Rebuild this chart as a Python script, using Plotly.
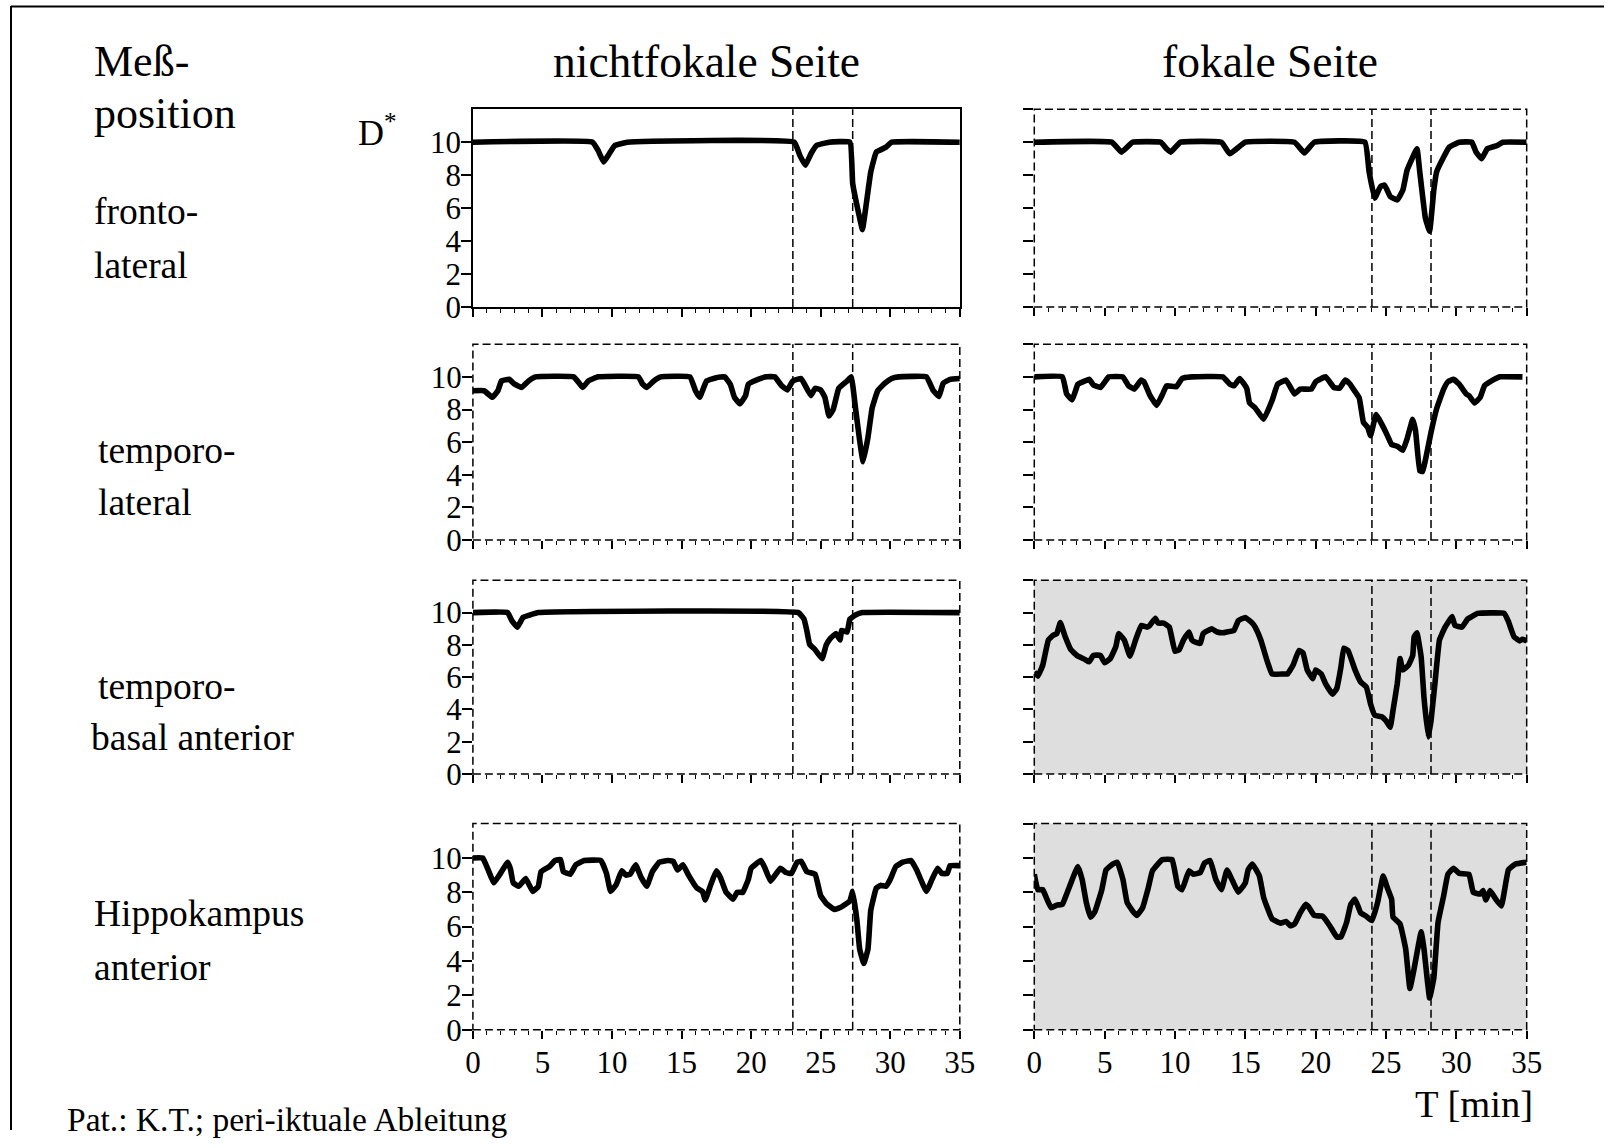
import plotly.graph_objects as go

W, H = 1619, 1148
FONT = "Liberation Serif, Times New Roman, serif"

# ---------------- data ----------------
col_titles = ["nichtfokale Seite", "fokale Seite"]
row_labels = [["fronto-", "lateral"], ["temporo-", "lateral"],
              ["temporo-", "basal anterior"], ["Hippokampus", "anterior"]]
x_tick_vals = [0, 5, 10, 15, 20, 25, 30, 35]
y_tick_vals_left = [0, 2, 4, 6, 8, 10]
y_tick_vals_right = [0, 2, 4, 6, 8, 10, 12]
event_times_nf = [23.0, 27.3]   # nichtfokale Seite
event_times_f = [24.0, 28.2]    # fokale Seite
shaded = [[False, False], [False, False], [False, True], [False, True]]

# Row 1: fronto-lateral
t_nf_fronto = [0, 8.6, 9.0, 9.4, 9.8, 10.2, 11.1, 23.1, 23.5, 23.9, 24.3, 24.7, 25.6,
               27.1, 27.3, 27.75, 28.0, 28.3, 28.6, 29.0, 29.7, 30.1, 35]
d_nf_fronto = [10, 10, 9.5, 8.8, 9.3, 9.8, 10, 10, 9.2, 8.6, 9.3, 9.8, 10,
               10, 7.5, 5.6, 4.7, 6.4, 8.2, 9.4, 9.7, 10, 10]
t_f_fronto = [0, 5.5, 6.2, 7.0, 9.0, 9.4, 9.7, 10.4, 13.3, 13.9, 15.0, 18.5, 19.2, 19.9,
              23.5, 23.8, 24.2, 24.6, 24.9, 25.3, 25.8, 26.2, 26.5, 27.2, 27.4, 27.8, 28.1,
              28.4, 28.6, 29.1, 29.5, 30.2, 31.1, 31.4, 31.8, 32.2, 32.9, 33.3, 35]
d_f_fronto = [10, 10, 9.4, 10, 10, 9.6, 9.4, 10, 10, 9.3, 10, 10, 9.35, 10,
              10, 8.2, 6.6, 7.3, 7.4, 6.7, 6.5, 7.1, 8.3, 9.6, 8.2, 5.4, 4.6,
              7.1, 8.2, 9.1, 9.7, 10, 10, 9.4, 9.0, 9.6, 9.8, 10, 10]

# Row 2: temporo-lateral
t_nf_templat = [0, 0.8, 1.4, 1.8, 2.05, 2.6, 3.0, 3.5, 4.0, 4.5, 7.25, 7.7, 7.9, 8.3, 9.0,
                11.9, 12.2, 12.5, 13.0, 13.5, 15.6, 16.0, 16.3, 16.8, 17.5, 18.1, 18.5, 18.8,
                19.2, 19.6, 19.8, 20.5, 21.1, 21.7, 22.2, 22.6, 23.0, 23.6, 23.9, 24.3, 24.6,
                25.0, 25.3, 25.6, 25.9, 26.3, 26.9, 27.2, 27.5, 27.8, 28.05, 28.4, 28.7, 29.1,
                29.6, 30.1, 30.6, 32.6, 33.1, 33.5, 33.8, 34.3, 35]
d_nf_templat = [9.15, 9.15, 8.75, 9.15, 9.75, 9.85, 9.55, 9.35, 9.75, 10, 10, 9.55, 9.35, 9.75, 10,
                10, 9.55, 9.35, 9.75, 10, 10, 9.15, 8.75, 9.75, 9.95, 10, 9.55, 8.75,
                8.35, 8.85, 9.55, 9.85, 10, 10, 9.45, 9.2, 9.75, 9.9, 9.45, 8.85, 9.3,
                9.2, 8.75, 7.6, 8.0, 9.3, 9.75, 10, 8.1, 6.1, 4.8, 6.3, 8.1, 9.15,
                9.6, 9.9, 10, 10, 9.15, 8.8, 9.6, 9.85, 9.9]
t_f_templat = [0, 2.0, 2.3, 2.7, 3.1, 3.6, 3.9, 4.2, 4.7, 5.3, 6.3, 6.7, 7.1, 7.6, 7.8,
               8.2, 8.7, 9.1, 9.4, 10.1, 10.5, 11.2, 13.4, 13.9, 14.2, 14.6, 15.1, 15.3, 15.7,
               16.3, 16.9, 17.3, 17.9, 18.5, 18.9, 19.7, 20.0, 20.7, 21.3, 21.7, 22.1, 22.4,
               22.8, 23.1, 23.4, 23.7, 23.9, 24.3, 24.7, 25.1, 25.4, 25.8, 26.2, 26.5, 26.9,
               27.1, 27.4, 27.6, 27.8, 28.2, 28.6, 29.1, 29.4, 29.8, 30.2, 30.7, 30.9, 31.3,
               31.7, 32.0, 32.5, 33.1, 34.7]
d_f_templat = [10, 10, 8.95, 8.6, 9.55, 9.75, 9.85, 9.5, 9.35, 10, 10, 9.45, 9.25, 9.8, 9.7,
               8.9, 8.25, 8.9, 9.45, 9.4, 9.9, 10, 10, 9.55, 9.45, 9.9, 9.3, 8.4, 8.1,
               7.4, 8.55, 9.55, 9.8, 8.95, 9.25, 9.25, 9.7, 10, 9.35, 9.3, 9.8, 9.6,
               9.1, 8.7, 7.2, 6.9, 6.4, 7.7, 7.1, 6.4, 5.85, 5.75, 5.5, 6.2, 7.4,
               6.7, 4.25, 4.2, 4.9, 6.6, 8.05, 9.25, 9.7, 9.85, 9.55, 8.95, 8.85, 8.4,
               8.75, 9.45, 9.75, 10, 10]

# Row 3: temporo-basal anterior
t_nf_tempbas = [0, 2.5, 2.8, 3.2, 3.6, 4.1, 4.7, 23.4, 23.8, 24.0, 24.2, 24.6, 25.1, 25.4,
                25.7, 26.1, 26.4, 26.5, 26.9, 27.1, 27.5, 28.0, 35]
d_nf_tempbas = [10, 10, 9.5, 9.1, 9.7, 9.85, 10, 10, 9.6, 8.9, 8.05, 7.7, 7.15, 8.0,
                8.4, 8.7, 8.3, 8.9, 8.8, 9.6, 9.85, 10, 10]
t_f_tempbas = [0, 0.25, 0.6, 1.0, 1.35, 1.6, 1.85, 2.2, 2.6, 3.1, 3.6, 3.9, 4.2, 4.7, 5.0,
               5.4, 5.8, 6.0, 6.4, 6.8, 7.2, 7.6, 8.0, 8.2, 8.6, 8.8, 9.2, 9.6, 10.0, 10.3,
               10.6, 11.0, 11.2, 11.5, 11.8, 12.0, 12.6, 13.0, 13.4, 13.7, 14.2, 14.5, 15.0,
               15.5, 15.7, 16.1, 16.5, 16.9, 17.7, 18.0, 18.4, 18.8, 19.1, 19.4, 19.8, 20.0,
               20.4, 20.7, 21.2, 21.5, 21.8, 22.0, 22.3, 22.8, 23.2, 23.6, 23.9, 24.2, 24.7,
               25.0, 25.3, 25.5, 25.8, 26.0, 26.2, 26.6, 26.9, 27.0, 27.2, 27.5, 27.7, 28.0,
               28.2, 28.5, 28.8, 29.2, 29.7, 29.9, 30.4, 30.8, 31.1, 31.5, 33.4, 33.7, 34.1,
               34.5, 34.7, 35]
d_f_tempbas = [6.33, 6.06, 6.74, 8.3, 8.6, 8.7, 9.38, 8.5, 7.7, 7.3, 7.1, 6.95, 7.35, 7.35, 6.9,
               7.15, 7.9, 8.7, 8.3, 7.3, 8.3, 9.2, 9.1, 9.2, 9.65, 9.35, 9.35, 9.1, 7.6, 7.7,
               8.3, 8.8, 8.3, 8.15, 8.1, 8.7, 9.0, 8.8, 8.75, 8.8, 8.9, 9.5, 9.7,
               9.35, 9.1, 8.3, 7.15, 6.2, 6.2, 6.2, 6.75, 7.65, 7.5, 6.45, 5.9, 6.45,
               6.2, 5.6, 4.95, 5.3, 6.65, 7.8, 7.65, 6.45, 5.7, 5.4, 4.35, 3.65, 3.55,
               3.3, 2.9, 3.95, 5.6, 7.15, 6.45, 6.75, 7.35, 8.5, 8.75, 7.25, 4.75, 2.3,
               3.3, 5.8, 8.3, 9.1, 9.75, 9.2, 9.1, 9.6, 9.75, 9.95, 9.95, 9.45, 8.5,
               8.25, 8.35, 8.25]

# Row 4: Hippokampus anterior
t_nf_hippo = [0, 0.7, 1.1, 1.5, 1.9, 2.5, 2.7, 2.9, 3.3, 3.8, 4.3, 4.7, 4.9, 5.5, 5.9, 6.3,
              6.5, 7.0, 7.4, 8.0, 9.2, 9.6, 9.9, 10.3, 10.7, 11.0, 11.3, 11.7, 12.1, 12.5,
              12.9, 13.4, 14.0, 14.4, 14.7, 15.1, 15.5, 16.1, 16.5, 16.7, 17.1, 17.5, 17.8,
              18.2, 18.7, 19.0, 19.4, 19.8, 20.0, 20.7, 21.0, 21.4, 22.1, 22.5, 22.9, 23.3,
              23.6, 24.0, 24.6, 25.0, 25.4, 26.0, 26.5, 27.1, 27.3, 27.6, 27.8, 28.1, 28.4,
              28.6, 29.0, 29.3, 29.7, 30.0, 30.4, 30.9, 31.5, 31.9, 32.6, 33.0, 33.4, 33.7,
              34.1, 34.3, 35]
d_nf_hippo = [10, 10, 9.3, 8.55, 9.0, 9.75, 9.35, 8.55, 8.35, 8.8, 8.05, 8.35, 9.2, 9.5, 9.85, 9.9,
              9.2, 9.05, 9.6, 9.85, 9.85, 9.1, 8.05, 8.45, 9.25, 9.0, 9.05, 9.6, 8.85, 8.35,
              9.2, 9.75, 9.85, 9.8, 9.3, 9.6, 9.0, 8.25, 8.05, 7.55, 8.45, 9.25, 8.85,
              8.0, 7.6, 8.0, 8.0, 8.75, 9.4, 9.85, 9.4, 8.65, 9.4, 9.15, 9.1, 9.75,
              9.8, 9.2, 9.05, 7.8, 7.35, 7.0, 7.15, 7.5, 8.05, 6.4, 4.7, 3.85, 4.7,
              6.95, 8.25, 8.4, 8.35, 8.75, 9.5, 9.75, 9.85, 9.3, 8.05, 8.75, 9.4, 9.1,
              9.1, 9.55, 9.55]
t_f_hippo = [0, 0.25, 0.6, 0.9, 1.2, 1.6, 2.0, 2.3, 2.7, 3.1, 3.4, 3.7, 4.0, 4.3, 4.8, 5.1,
             5.5, 5.9, 6.3, 6.6, 7.0, 7.3, 7.7, 8.1, 8.4, 9.1, 9.8, 10.2, 10.5, 11.0, 11.3,
             11.8, 12.1, 12.5, 12.9, 13.3, 13.7, 14.1, 14.5, 15.0, 15.2, 15.5, 16.0, 16.3,
             16.9, 17.5, 17.9, 18.2, 18.5, 18.9, 19.3, 19.5, 19.9, 20.5, 21.0, 21.5, 21.8,
             22.2, 22.5, 22.8, 23.2, 23.6, 24.0, 24.4, 24.8, 25.1, 25.4, 25.5, 26.0, 26.4,
             26.7, 27.0, 27.5, 27.7, 28.1, 28.4, 28.7, 29.1, 29.4, 29.8, 30.2, 30.9, 31.2,
             31.7, 31.9, 32.1, 32.4, 32.8, 33.2, 33.7, 34.2, 35]
d_f_hippo = [9.05, 8.15, 8.15, 7.6, 7.1, 7.25, 7.3, 7.9, 8.75, 9.5, 8.75, 7.4, 6.55, 6.85, 8.15, 9.3,
             9.6, 9.75, 8.75, 7.4, 6.9, 6.65, 7.1, 8.25, 9.25, 9.9, 9.9, 8.35, 8.15, 9.25, 9.05,
             9.15, 9.7, 9.85, 8.75, 8.15, 9.3, 8.65, 8.0, 8.55, 9.3, 9.65, 8.95, 7.7,
             6.45, 6.2, 6.3, 6.05, 6.15, 6.8, 7.3, 7.15, 6.65, 6.6, 6.05, 5.4, 5.4,
             6.25, 7.3, 7.6, 6.8, 6.6, 6.35, 7.4, 8.95, 8.25, 7.6, 6.55, 6.15, 4.7,
             2.4, 3.55, 5.7, 4.7, 1.85, 3.0, 6.25, 7.8, 9.05, 9.4, 9.1, 9.05, 8.0,
             7.9, 8.1, 7.55, 8.1, 7.6, 7.2, 9.3, 9.65, 9.75]

series = [[(t_nf_fronto, d_nf_fronto), (t_f_fronto, d_f_fronto)],
          [(t_nf_templat, d_nf_templat), (t_f_templat, d_f_templat)],
          [(t_nf_tempbas, d_nf_tempbas), (t_f_tempbas, d_f_tempbas)],
          [(t_nf_hippo, d_nf_hippo), (t_f_hippo, d_f_hippo)]]

# ---------------- layout geometry ----------------
# The photographed page shows the figure slightly shrunk and shifted; target
# positions (in photo pixels) are mapped back to figure pixels.
SC, OX, OY = 0.986, 7.0, -1.0

def fx(s):
    return (s - OX) / SC

def fy(s):
    return (s - OY) / SC

def px(x):          # figure pixels -> paper
    return x / W

def py(y):
    return 1 - y / H

col_target = [(472, 959), (1033.5, 1526)]
row_target = [(108.4, 306.6), (343.8, 540), (580.3, 774.4), (824, 1030.4)]

DASH = "8px,4px"
TICKFONT = dict(family=FONT, size=31, color="black")
fig = go.Figure()
shapes = []
layout_axes = {}

for r in range(4):
    for c in range(2):
        k = r * 2 + c + 1
        sx = "" if k == 1 else str(k)
        t, d = series[r][c]
        fig.add_trace(go.Scatter(x=t, y=d, mode="lines", xaxis="x" + sx, yaxis="y" + sx,
                                 line=dict(color="black", width=5.6, shape="spline",
                                           smoothing=0.3),
                                 showlegend=False, hoverinfo="skip"))
        solid = (r == 0 and c == 0)
        layout_axes["xaxis" + sx] = dict(
            domain=[px(fx(col_target[c][0])), px(fx(col_target[c][1]))], range=[0, 35],
            anchor="y" + sx,
            tickmode="array", tickvals=x_tick_vals, ticks="outside", ticklen=8, tickwidth=1.5,
            tickcolor="black", showticklabels=(r == 3), ticklabelstandoff=-3,
            tickfont=TICKFONT,
            minor=dict(dtick=1, tick0=0, ticks="outside", ticklen=4, tickwidth=1.2,
                       tickcolor="black", showgrid=False),
            showgrid=False, zeroline=False, showline=solid, linecolor="black", linewidth=1.5,
            mirror=solid, fixedrange=True)
        layout_axes["yaxis" + sx] = dict(
            domain=[py(fy(row_target[r][1])), py(fy(row_target[r][0]))], range=[0, 12],
            anchor="x" + sx,
            tickmode="array", tickvals=(y_tick_vals_left if c == 0 else y_tick_vals_right),
            ticks="outside", ticklen=10, tickwidth=1.5, tickcolor="black",
            showticklabels=(c == 0), ticklabelstandoff=-6,
            tickfont=TICKFONT,
            showgrid=False, zeroline=False, showline=solid, linecolor="black", linewidth=1.5,
            mirror=solid, fixedrange=True)
        if shaded[r][c]:
            shapes.append(dict(type="rect", xref="x" + sx + " domain", yref="y" + sx + " domain",
                               x0=0, x1=1, y0=0, y1=1, fillcolor="#dedede",
                               line=dict(width=0), layer="below"))
        if not solid:
            shapes.append(dict(type="rect", xref="x" + sx + " domain", yref="y" + sx + " domain",
                               x0=0, x1=1, y0=0, y1=1,
                               line=dict(color="black", width=1.5, dash=DASH), layer="above"))
        for et in (event_times_nf if c == 0 else event_times_f):
            shapes.append(dict(type="line", xref="x" + sx, yref="y" + sx + " domain",
                               x0=et, x1=et, y0=0, y1=1,
                               line=dict(color="black", width=1.5, dash=DASH), layer="above"))

# outer border (top + left)
shapes.append(dict(type="line", xref="paper", yref="paper", x0=px(fx(10)), x1=1,
                   y0=py(fy(5.5)), y1=py(fy(5.5)), line=dict(color="black", width=2)))
shapes.append(dict(type="line", xref="paper", yref="paper", x0=px(fx(10)), x1=px(fx(10)),
                   y0=py(fy(5)), y1=0, line=dict(color="black", width=2)))

annotations = []

def txt(text, x, y, size, xanchor="left"):
    annotations.append(dict(text=text, x=px(x), y=py(y), xref="paper", yref="paper",
                            xanchor=xanchor, yanchor="middle", showarrow=False,
                            font=dict(family=FONT, size=size, color="black")))

txt("Meß-", 85, 62, 44)
txt("position", 85, 115, 44)
txt("D<sup>*</sup>", 353, 133, 36)
txt(col_titles[0], 709, 62, 45.5, "center")
txt(col_titles[1], 1280, 62, 45.5, "center")
label_fig = [[(85, 215), (85, 270)], [(89, 458), (89, 510)],
             [(89, 697), (82, 749)], [(85, 928), (85, 983)]]
for r in range(4):
    for j in range(2):
        txt(row_labels[r][j], label_fig[r][j][0], label_fig[r][j][1], 37.5)
txt("T [min]", 1487, 1122, 38.5, "center")
txt("Pat.: K.T.; peri-iktuale Ableitung", 58, 1137, 33.5)

fig.update_layout(width=W, height=H, margin=dict(l=0, r=0, t=0, b=0),
                  paper_bgcolor="white", plot_bgcolor="rgba(0,0,0,0)",
                  shapes=shapes, annotations=annotations, **layout_axes)

fig.write_html("out.html", config={"displayModeBar": False},
               post_script="document.body.style.margin='0';document.body.style.overflow='hidden';")
